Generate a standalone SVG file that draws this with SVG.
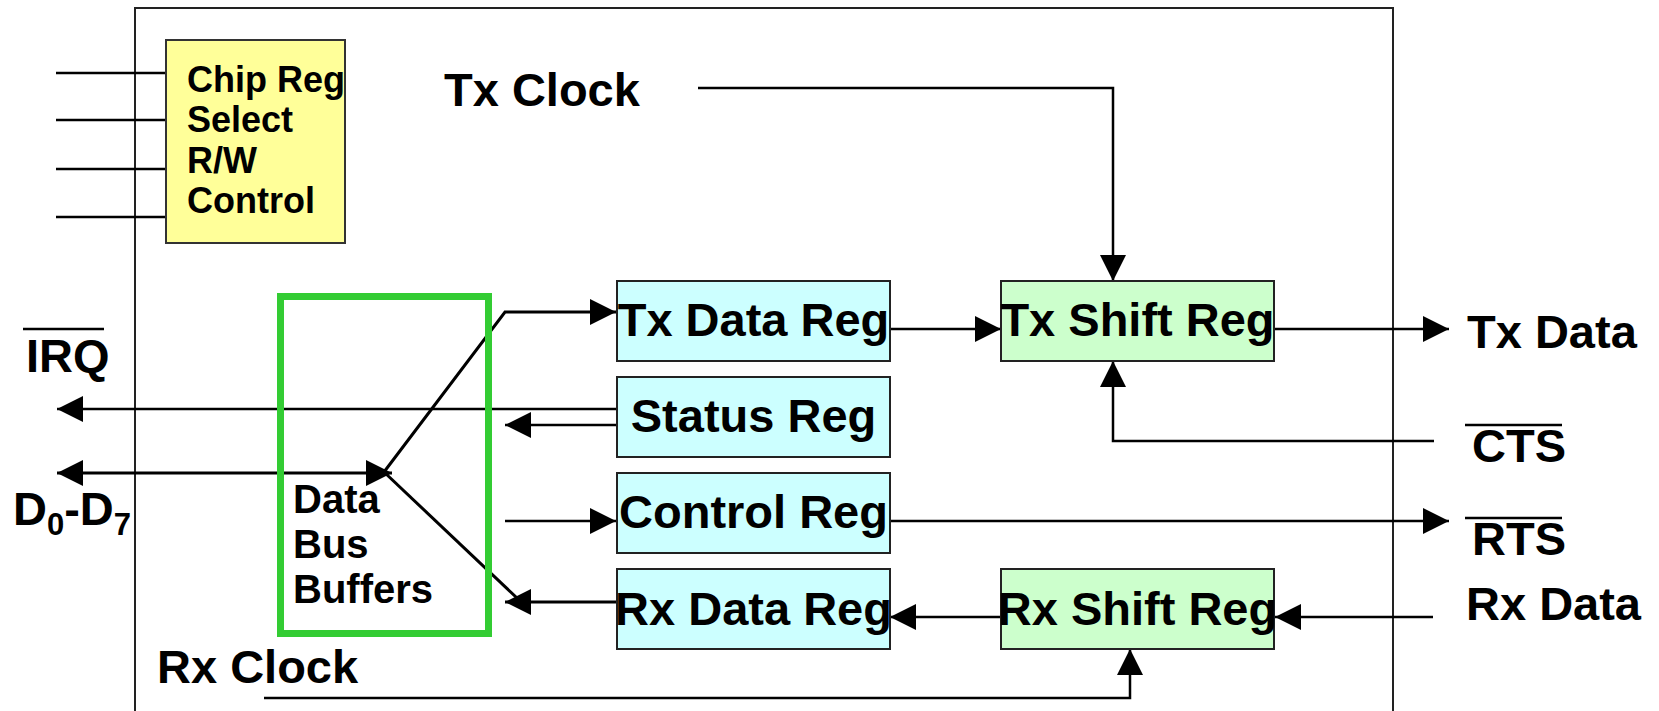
<svg xmlns="http://www.w3.org/2000/svg" width="1659" height="711" viewBox="0 0 1659 711">
<style>
.t{font-family:"Liberation Sans",Arial,sans-serif;font-weight:bold;fill:#000}
.big{font-size:47px}
.mid{font-size:40px}
.sm{font-size:36px}
.reg{fill:#CCFFFF;stroke:#222;stroke-width:2}
.sh{fill:#CCFFCC;stroke:#222;stroke-width:2}
.ln{fill:none;stroke:#000;stroke-width:2.5}
.lt{fill:none;stroke:#000;stroke-width:3}
.ar{marker-end:url(#ah)}
</style>
<defs>
<marker id="ah" markerUnits="userSpaceOnUse" markerWidth="26" markerHeight="26" refX="26" refY="13" orient="auto-start-reverse" viewBox="0 0 26 26">
<path d="M0,0 L26,13 L0,26 z" fill="#000"/>
</marker>
</defs>
<rect width="1659" height="711" fill="#fff"/>
<g id="outer">
<path d="M135,720 L135,8 L1393,8 L1393,720" fill="none" stroke="#222" stroke-width="2"/>
</g>
<g id="connectors">
<line class="ln" x1="56" y1="73" x2="166" y2="73" stroke-width="2"/>
<line class="ln" x1="56" y1="120" x2="166" y2="120" stroke-width="3"/>
<line class="ln" x1="56" y1="169" x2="166" y2="169" stroke-width="2"/>
<line class="ln" x1="56" y1="217" x2="166" y2="217" stroke-width="2"/>
<polyline class="ln ar" points="698,88 1113,88 1113,281"/>
<polyline class="lt ar" points="384,472 505,312 616,312"/>
<line class="lt" x1="384" y1="472" x2="517" y2="598"/>
<line class="lt ar" x1="616" y1="602" x2="505" y2="602"/>
<line class="lt ar" x1="300" y1="473" x2="392" y2="473"/>
<line class="lt ar" x1="300" y1="473" x2="57" y2="473"/>
<line class="ln ar" x1="616" y1="409" x2="57" y2="409"/>
<line class="ln ar" x1="616" y1="425" x2="505" y2="425"/>
<line class="ln ar" x1="505" y1="521" x2="616" y2="521"/>
<line class="ln ar" x1="890" y1="329" x2="1001" y2="329"/>
<line class="ln ar" x1="1274" y1="329" x2="1449" y2="329"/>
<polyline class="ln ar" points="1434,441 1113,441 1113,361"/>
<line class="ln ar" x1="890" y1="521" x2="1449" y2="521"/>
<line class="ln ar" x1="1433" y1="617" x2="1275" y2="617"/>
<line class="ln ar" x1="1001" y1="617" x2="890" y2="617"/>
<polyline class="ln ar" points="264,698 1130,698 1130,649"/>
</g>
<g id="chip">
<rect x="166" y="40" width="179" height="203" fill="#FFFF99" stroke="#333" stroke-width="2"/>
<text class="t sm" x="187" y="92">Chip Reg</text>
<text class="t sm" x="187" y="132">Select</text>
<text class="t sm" x="187" y="173">R/W</text>
<text class="t sm" x="187" y="213">Control</text>
</g>
<g id="buffers">
<rect x="280.5" y="296.5" width="208" height="337" fill="none" stroke="#33CC33" stroke-width="7"/>
<text class="t mid" x="293" y="513">Data</text>
<text class="t mid" x="293" y="558">Bus</text>
<text class="t mid" x="293" y="603">Buffers</text>
</g>
<g id="txdata">
<rect class="reg" x="617" y="281" width="273" height="80"/>
<text class="t big" x="753.5" y="336" text-anchor="middle">Tx Data Reg</text>
</g>
<g id="status">
<rect class="reg" x="617" y="377" width="273" height="80"/>
<text class="t big" x="753.5" y="432" text-anchor="middle">Status Reg</text>
</g>
<g id="control">
<rect class="reg" x="617" y="473" width="273" height="80"/>
<text class="t big" x="753.5" y="528" text-anchor="middle">Control Reg</text>
</g>
<g id="rxdata">
<rect class="reg" x="617" y="569" width="273" height="80"/>
<text class="t big" x="753.5" y="625" text-anchor="middle">Rx Data Reg</text>
</g>
<g id="txshift">
<rect class="sh" x="1001" y="281" width="273" height="80"/>
<text class="t big" x="1137.5" y="336" text-anchor="middle">Tx Shift Reg</text>
</g>
<g id="rxshift">
<rect class="sh" x="1001" y="569" width="273" height="80"/>
<text class="t big" x="1137.5" y="625" text-anchor="middle">Rx Shift Reg</text>
</g>
<g id="labels">
<text class="t big" x="444" y="106">Tx Clock</text>
<text class="t big" x="157" y="683">Rx Clock</text>
<line x1="23" y1="329" x2="104" y2="329" stroke="#000" stroke-width="2.5"/>
<text class="t big" x="26" y="372">IRQ</text>
<text class="t big" x="13" y="525">D<tspan font-size="31" dy="10">0</tspan><tspan dy="-10">-D</tspan><tspan font-size="31" dy="10">7</tspan></text>
<text class="t big" x="1467" y="348">Tx Data</text>
<line x1="1465" y1="425" x2="1562" y2="425" stroke="#000" stroke-width="2.5"/>
<text class="t big" x="1472" y="462">CTS</text>
<line x1="1465" y1="518" x2="1562" y2="518" stroke="#000" stroke-width="2.5"/>
<text class="t big" x="1472" y="555">RTS</text>
<text class="t big" x="1466" y="620">Rx Data</text>
</g>
</svg>
